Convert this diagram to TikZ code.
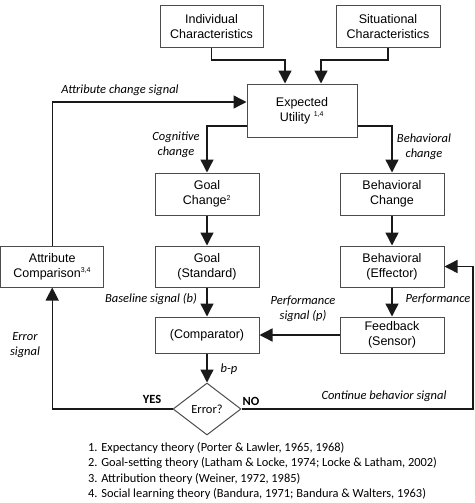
\documentclass[tikz,border=0pt]{standalone}
\usepackage{fontspec}
\setmainfont{Liberation Sans}
\newfontfamily\calfont{Carlito}
\usetikzlibrary{arrows.meta,shapes.geometric}
\tikzset{
  box/.style={draw=black!70, line width=1pt, minimum width=104pt, minimum height=42pt, inner sep=0pt, align=center, font=\fontsize{12.5}{15}\selectfont},
  arr/.style={line width=1.4pt, draw=black!90, -{Triangle[length=13pt,width=13pt]}},
  lab/.style={align=center, font=\calfont\itshape\fontsize{12.5}{15}\selectfont, inner sep=0pt},
  bold/.style={font=\calfont\bfseries\fontsize{12.5}{15}\selectfont, inner sep=0pt},
  note/.style={anchor=west, font=\calfont\fontsize{12.4}{15}\selectfont, inner sep=0pt}
}
\begin{document}
\begin{tikzpicture}[x=1pt,y=-1pt]
\useasboundingbox (0,0) rectangle (474,503);
\node[box, minimum width=103pt] (ind) at (211.5,27) {Individual\\Characteristics};
\node[box] (sit) at (388,27) {Situational\\Characteristics};
\node[box, minimum width=110pt, minimum height=53pt] (eu) at (302,110.5) {Expected\\Utility \textsuperscript{\scriptsize 1,4}};
\node[box] (gc) at (207,194) {Goal\\Change\textsuperscript{\scriptsize 2}};
\node[box] (bc) at (392,194) {Behavioral\\Change};
\node[box, minimum height=41pt] (gs) at (207,266.5) {Goal\\(Standard)};
\node[box, minimum height=41pt] (be) at (392,266.5) {Behavioral\\(Effector)};
\node[box, minimum width=103pt, minimum height=41pt] (ac) at (52.2,266.5) {Attribute\\Comparison\textsuperscript{\scriptsize 3,4}};
\node[box, minimum height=36pt] (cmp) at (207,335) {(Comparator)};
\node[box, minimum height=36pt] (fb) at (392,335) {Feedback\\(Sensor)};
\node[diamond, draw=black!70, line width=1pt, minimum width=68pt, minimum height=52pt, aspect=1.3, inner sep=0pt, font=\calfont\fontsize{12.5}{15}\selectfont] (err) at (207,409) {Error?};

\coordinate (j1) at (0,60);
\coordinate (rt) at (473,409);
\coordinate (e1) at ([xshift=-17pt]eu.north);
\coordinate (e2) at ([xshift=19pt]eu.north);

\draw[arr] (ind.south) |- (e1 |- j1) -- (e1);
\draw[arr] (sit.south) |- (e2 |- j1) -- (e2);
\draw[arr] (ac.north) |- ([yshift=8.5pt]eu.west);
\draw[arr] ([yshift=-15.5pt]eu.west) -| (gc.north);
\draw[arr] ([yshift=-15.5pt]eu.east) -| (bc.north);
\draw[arr] (gc.south) -- (gs.north);
\draw[arr] (bc.south) -- (be.north);
\draw[arr] (gs.south) -- (cmp.north);
\draw[arr] (be.south) -- (fb.north);
\draw[arr] (fb.west) -- (cmp.east);
\draw[arr] (cmp.south) -- (err.north);
\draw[arr] (err.west) -| (ac.south);
\draw[arr] (err.east) -- (rt) |- (be.east);

\node[lab] (l1) at (120,90) {Attribute change signal};
\node[lab] (l2) at (176,144.5) {Cognitive\\change};
\node[lab] (l3) at (424,146.5) {Behavioral\\change};
\node[lab] (l4) at (151,299) {Baseline signal (b)};
\node[lab] (l5) at (303,308.5) {Performance\\signal (p)};
\node[lab] (l6) at (438,299) {Performance};
\node[lab] (l7) at (229,369) {b-p};
\node[lab] (l8) at (25,345.5) {Error\\signal};
\node[lab] (l9) at (384,396) {Continue behavior signal};
\node[bold] (yes) at (152,399) {YES};
\node[bold] (no) at (251,401) {NO};

\node[note] (n1) at (88,448) {1. Expectancy theory (Porter \& Lawler, 1965, 1968)};
\node[note] (n2) at (88,463.5) {2. Goal-setting theory (Latham \& Locke, 1974; Locke \& Latham, 2002)};
\node[note] (n3) at (88,479) {3. Attribution theory (Weiner, 1972, 1985)};
\node[note] (n4) at (88,494) {4. Social learning theory (Bandura, 1971; Bandura \& Walters, 1963)};
\end{tikzpicture}
\end{document}
